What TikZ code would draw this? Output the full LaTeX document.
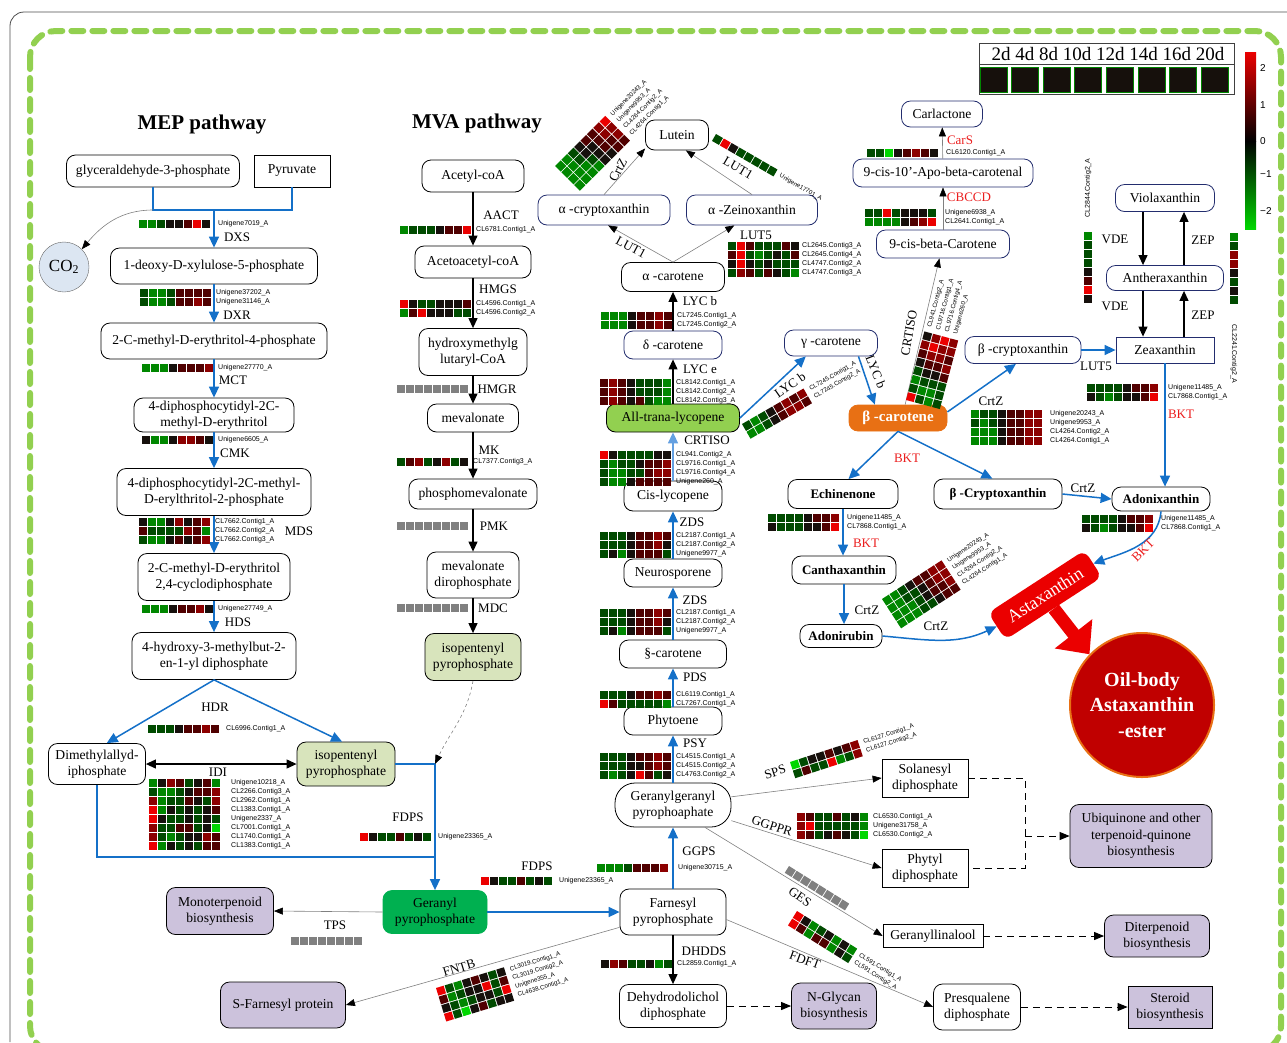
\documentclass[tikz,border=0pt]{standalone}
\usepackage{fontspec}
\setmainfont{Liberation Serif}
\setsansfont{Liberation Sans}
\usetikzlibrary{arrows.meta}
\definecolor{hma}{RGB}{0,215,0}
\definecolor{hmb}{RGB}{0,135,0}
\definecolor{hmc}{RGB}{0,75,0}
\definecolor{hmk}{RGB}{22,16,12}
\definecolor{hmd}{RGB}{80,0,0}
\definecolor{hme}{RGB}{140,0,0}
\definecolor{hmf}{RGB}{235,0,0}
\definecolor{hmx}{RGB}{128,128,128}
\definecolor{arblue}{RGB}{20,112,200}
\definecolor{ltblue}{RGB}{100,160,225}
\definecolor{navy}{RGB}{35,45,110}
\definecolor{ippc}{RGB}{216,228,188}
\definecolor{gppc}{RGB}{0,176,80}
\definecolor{lycc}{RGB}{146,208,80}
\definecolor{purc}{RGB}{204,194,220}
\definecolor{bcc}{RGB}{232,112,20}
\definecolor{co2c}{RGB}{220,230,242}
\definecolor{oilc}{RGB}{192,0,0}
\definecolor{dashg}{RGB}{146,208,80}
\definecolor{enzred}{RGB}{235,30,30}
\newcommand{\fsz}[2]{\fontsize{#1}{#2}\selectfont}
% one heat grid: left x, top y, rows of colour letters
\newcommand{\hgrid}[3]{%
  \foreach \rw [count=\rj from 0] in {#3}{%
    \foreach \ce [count=\ci from 0] in \rw{%
      \fill[fill=hm\ce] (#1+\ci*9,#2+\rj*9) rectangle ++(8,8);
    }%
  }%
}
\newcommand{\hmap}[5][76]{%
  \hgrid{#2}{#3}{#4}
  \foreach \lb [count=\lj from 0] in {#5}
    \node[gid] (hm-#2-#3-\lj) at (#2+#1,#3+4+\lj*9) {\lb};
}
\newcommand{\mnode}[7][met]{\node[#1, minimum width=#5, minimum height=#6] (#2) at (#3,#4) {#7};}
\tikzset{
  met/.style={draw, line width=0.8pt, rounded corners=9pt, fill=white, align=center, font=\fsz{13.6}{16.5}, inner sep=1pt},
  metn/.style={met, draw=navy},
  metbf/.style={met, font=\bfseries\fsz{13}{16}},
  sqm/.style={met, rounded corners=0pt},
  pur/.style={met, fill=purc},
  ipps/.style={met, fill=ippc},
  lycs/.style={met, fill=lycc},
  gpps/.style={met, draw=gppc, fill=gppc},
  bcs/.style={met, draw=bcc, fill=bcc, text=white, font=\bfseries\fsz{15}{18}},
  enz/.style={font=\fsz{13}{15}, inner sep=1pt},
  enzr/.style={enz, text=enzred},
  gid/.style={font=\sffamily\fsz{7}{8}, anchor=west, inner sep=0pt, transform shape},
  gidr/.style={gid/.append style={font=\sffamily\fsz{6.2}{7}}},
  bl/.style={draw=arblue, line width=1.5pt},
  bla/.style={bl, -{Triangle[length=11pt,width=10pt]}},
  bk/.style={line width=1.1pt, -{Triangle[length=10pt,width=9pt]}},
  gr/.style={draw=gray, line width=0.6pt, -{Triangle[length=9pt,width=7pt,color=black]}},
  dsh/.style={line width=0.9pt, dash pattern=on 7pt off 5pt, -{Triangle[length=10pt,width=8pt]}},
}
\begin{document}
\begin{tikzpicture}[x=1pt,y=-1pt]
\useasboundingbox (0,0) rectangle (1287,1042);
% frames
\draw[gray!60!black, line width=0.8pt, rounded corners=14pt] (10,1042) |- (1287,12);
\draw[dashg, line width=6pt, line cap=round, dash pattern=on 12pt off 9pt, rounded corners=26pt] (30,31) rectangle (1281,1052);

% legend
\draw[gray!50!black, line width=1pt] (979,43) rectangle (1234,64) (979,64) rectangle (1234,94);
\node[font=\fsz{19}{21}, inner sep=0pt] (days) at (1108,54) {2d 4d 8d 10d 12d 14d 16d 20d};
\foreach \k in {0,...,7}
  \draw[draw=hmb, fill=hmk, line width=0.8pt] (980+\k*31.6,67) rectangle ++(27,25);
\shade[top color=hmf, bottom color=black] (1245,52) rectangle (1256,141);
\shade[top color=black, bottom color=hma] (1245,141) rectangle (1256,229);
\foreach \v/\yy in {2/68,1/105,0/141,−1/174,−2/211}
  \node[font=\sffamily\fsz{10}{12}, anchor=west, inner sep=1pt] (cb\yy) at (1259,\yy) {\v};

% titles
\node[font=\bfseries\fsz{21}{24}] (mept) at (202,124) {MEP pathway};
\node[font=\bfseries\fsz{21}{24}] (mvat) at (477,123) {MVA pathway};

% MEP pathway
\mnode{g3p}{153}{171}{173}{32}{glyceraldehyde-3-phosphate}
\mnode[sqm]{pyr}{292}{171}{76}{32}{Pyruvate}
\node[circle, draw=gray!80!black, fill=co2c, minimum size=50, font=\fsz{17}{19}, inner sep=0pt] (co2) at (64,267) {CO\textsubscript{2}};
\mnode{dxp}{214}{266}{207}{36}{1-deoxy-D-xylulose-5-phosphate}
\mnode{mep}{214}{341}{226}{36}{2-C-methyl-D-erythritol-4-phosphate}
\mnode{cdpme}{214}{415}{160}{34}{4-diphosphocytidyl-2C-\\methyl-D-erythritol}
\mnode{cdpmep}{214}{492}{194}{47}{4-diphosphocytidyl-2C-methyl-\\D-erylthritol-2-phosphate}
\mnode{mecpp}{214}{577}{152}{47}{2-C-methyl-D-erythritol\\2,4-cyclodiphosphate}
\mnode{hmbpp}{214}{656}{164}{47}{4-hydroxy-3-methylbut-2-\\en-1-yl diphosphate}
\mnode{dmapp}{97}{764}{97}{41}{Dimethylallyd-\\iphosphate}
\mnode[ipps]{ippa}{346}{764}{98}{44}{isopentenyl\\pyrophosphate}

% MVA pathway
\mnode{acoa}{473}{176}{102}{32}{Acetyl-coA}
\mnode{aacoa}{473}{262}{116}{32}{Acetoacetyl-coA}
\mnode{hmgc}{473}{352}{108}{47}{hydroxymethylg\\lutaryl-CoA}
\mnode{mvl}{473}{418}{91}{28}{mevalonate}
\mnode{pmvl}{473}{494}{128}{30}{phosphomevalonate}
\mnode{mvpp}{473}{575}{92}{46}{mevalonate\\dirophosphate}
\mnode[ipps]{ippb}{473}{657}{96}{47}{isopentenyl\\pyrophosphate}

% carotenoids
\mnode{lut}{677}{135}{63}{30}{Lutein}
\mnode[metn]{acry}{604}{210}{132}{30}{α -cryptoxanthin}
\mnode[metn]{azei}{752}{210}{131}{30}{α -Zeinoxanthin}
\mnode{acar}{673}{277}{103}{29}{α -carotene}
\mnode[metn]{dcar}{673}{345}{98}{28}{δ -carotene}
\mnode[lycs]{lyco}{673}{418}{133}{28}{All-trana-lycopene}
\mnode{cisl}{673}{496}{98}{30}{Cis-lycopene}
\mnode{neur}{673}{573}{98}{28}{Neurosporene}
\mnode{zcar}{673}{654}{107}{28}{§-carotene}
\mnode{phyt}{673}{721}{98}{28}{Phytoene}
\mnode[met, rounded corners=20pt]{ggpp}{673}{805}{116}{44}{Geranylgeranyl\\pyrophoaphate}
\mnode{fpp}{673}{912}{106}{46}{Farnesyl\\pyrophosphate}
\mnode{ddp}{673}{1006}{107}{43}{Dehydrodolichol\\diphosphate}
\mnode[metn]{gcar}{831}{343}{93}{26}{γ -carotene}
\mnode[bcs]{bcar}{898}{418}{98}{26}{β -carotene}
\mnode[metn]{cbc}{943}{244}{133}{28}{9-cis-beta-Carotene}
\mnode[metn]{apo}{943}{173}{180}{28}{9-cis-10'-Apo-beta-carotenal}
\mnode[metn]{carl}{942}{114}{81}{26}{Carlactone}
\mnode[metn]{bcry}{1023}{350}{116}{27}{β -cryptoxanthin}
\mnode[metn, rounded corners=0pt]{zea}{1165}{350}{98}{26}{Zeaxanthin}
\mnode[metn]{anth}{1165}{278}{117}{25}{Antheraxanthin}
\mnode[metn]{viol}{1165}{198}{99}{27}{Violaxanthin}
\mnode[metbf]{echi}{843}{494}{110}{29}{Echinenone}
\mnode[metbf]{bcrz}{998}{494}{128}{30}{β -Cryptoxanthin}
\mnode[metbf]{adxn}{1161}{499}{98}{24}{Adonixanthin}
\mnode[metbf]{cant}{844}{570}{104}{28}{Canthaxanthin}
\mnode[metbf]{adrb}{841}{636}{82}{23}{Adonirubin}
\node[fill=hmf, rounded corners=8pt, rotate=33, minimum width=115, minimum height=32, text=white, font=\fsz{18}{20}] (asta) at (1045,595) {Astaxanthin};
\node[circle, fill=oilc, draw=bcc, line width=2pt, minimum size=144, text=white, align=center, font=\bfseries\fsz{20}{25.5}] (oil) at (1142,705) {Oil-body\\Astaxanthin\\-ester};

% side products
\mnode[gpps]{gpp}{435}{912}{104}{43}{Geranyl\\pyrophosphate}
\mnode[pur]{mono}{220}{911}{107}{47}{Monoterpenoid\\biosynthesis}
\mnode[pur]{sfar}{283}{1005}{125}{46}{S-Farnesyl protein}
\mnode[sqm]{sola}{925}{778}{86}{38}{Solanesyl\\diphosphate}
\mnode[sqm]{phyl}{925}{868}{86}{38}{Phytyl\\diphosphate}
\mnode[sqm]{gell}{933}{936}{100}{23}{Geranyllinalool}
\mnode{presq}{977}{1007}{87}{46}{Presqualene\\diphosphate}
\mnode[pur]{ubiq}{1141}{836}{142}{63}{Ubiquinone and other\\terpenoid-quinone\\biosynthesis}
\mnode[pur]{dite}{1157}{936}{105}{42}{Diterpenoid\\biosynthesis}
\mnode[pur, rounded corners=0pt]{ster}{1170}{1007}{84}{42}{Steroid\\biosynthesis}
\mnode[pur]{ngly}{834}{1006}{85}{46}{N-Glycan\\biosynthesis}

% MEP connectors
\coordinate (jmep) at (214,210);
\coordinate (jipp) at (435,764);
\coordinate (jdma) at (435,857);
\draw[bl] (g3p.south) |- (jmep) -| (pyr.south);
\draw[bla] (jmep) -- (dxp.north);
\draw[gr] (g3p.south |- jmep) to[out=180,in=50] (co2.north east);
\foreach \a/\b in {dxp/mep,mep/cdpme,cdpme/cdpmep,cdpmep/mecpp,mecpp/hmbpp}
  \draw[bla] (\a) -- (\b);
\draw[bla] (hmbpp.south) -- (dmapp.65);
\draw[bla] (hmbpp.south) -- (ippa.100);
\draw[line width=1.1pt, {Triangle[length=10pt,width=9pt]}-{Triangle[length=10pt,width=9pt]}] (dmapp) -- (ippa);
\draw[bl] (ippa.east) -- (jipp);
\draw[bl] (dmapp.south) |- (jdma);
\draw[bla] (jipp) -- (gpp.north);
\draw[gr, dashed] (ippb.south) to[out=-100,in=65] (jipp);

% MVA connectors
\foreach \a/\b in {acoa/aacoa,aacoa/hmgc,hmgc/mvl,mvl/pmvl,pmvl/mvpp,mvpp/ippb}
  \draw[bk] (\a) -- (\b);

% carotenoid connectors
\draw[bla] (gpp) -- (fpp);
\foreach \a/\b in {fpp/ggpp,ggpp/phyt,phyt/zcar,zcar/neur,neur/cisl}
  \draw[bla] (\a) -- (\b);
\draw[bl, draw=ltblue, -{Triangle[length=11pt,width=10pt]}] (cisl) -- (lyco);
\draw[bk] (lyco) -- (dcar);
\draw[bk] (dcar) -- (acar);
\draw[gr] (acar.north) -- (acry.-75);
\draw[gr] (acar.north) -- (azei.-139);
\draw[gr] (acry.north) -- (lut.-157);
\draw[gr] (azei.north) -- (lut.-60);
\draw[bla] (lyco.east) -- (gcar.-152);
\draw[bla] (gcar.-26) -- (bcar.150);
\draw[gr] (bcar.62) -- (cbc.-104);
\draw[gr] (cbc) -- (apo);
\draw[gr] (apo) -- (carl);
\draw[bla] (bcar.7) -- (bcry.-117);
\draw[bla] (bcry) -- (zea);
\draw[bk] ([xshift=-22pt]viol.south) -- ([xshift=-22pt]anth.north);
\draw[bk] ([xshift=-22pt]anth.south) -- ([xshift=-22pt]zea.north);
\draw[bk] ([xshift=19pt]zea.north) -- ([xshift=19pt]anth.south);
\draw[bk] ([xshift=19pt]anth.north) -- ([xshift=19pt]viol.south);
\draw[bla] (zea.south) -- (zea.south |- adxn.north);
\draw[bla] (bcar.south) -- (echi.70);
\draw[bla] (bcar.south) -- (bcrz.110);
\draw[bla] (bcrz.east) -- (adxn.west);
\draw[bla] (echi.south) -- (echi.south |- cant.north);
\draw[bla] (cant.south) -- (cant.south |- adrb.north);
\draw[bla] (adrb.east) to[out=-5,in=205] (asta.west);
\draw[bla] (adxn.south) to[out=-95,in=20] (asta.east);
\draw[hmf, line width=13pt, -{Triangle[length=26pt,width=46pt]}] (asta.south) -- (oil.136);

% side connectors
\draw[gr] (ggpp.8) -- (sola.west);
\draw[gr] (ggpp.-15) -- (phyl.west);
\draw[gr] (ggpp.-35) -- (gell.west);
\draw[gr] (fpp.-8) -- (presq.west);
\draw[gr] (fpp.-164) -- (sfar.east);
\draw[gr] (gpp.west) -- (mono.east);
\draw[bk] (fpp) -- (ddp);
\draw[dsh] (ddp) -- (ngly);
\draw[dsh] (presq) -- (ster);
\draw[dsh] (gell) -- (dite);
\coordinate (jubi) at (1025,836);
\draw[line width=0.9pt, dash pattern=on 7pt off 5pt] (sola.east) -| (jubi) |- (phyl.east);
\draw[dsh] (jubi) -- (ubiq.west);

% heat maps, MEP
\hmap[79]{139}{220}{{b,b,c,k,k,d,f,k}}{Unigene7019\_A}
\hmap{140}{289}{{c,b,b,c,d,d,d,d},{c,b,b,c,d,d,e,d}}{Unigene37202\_A,Unigene31146\_A}
\hmap{142}{364}{{b,b,b,k,d,d,d,e}}{Unigene27770\_A}
\hmap{142}{436}{{k,b,b,k,e,e,d,k}}{Unigene6605\_A}
\hmap{139}{518}{{k,b,b,k,e,k,d,e},{d,c,c,c,c,e,d,b},{c,b,b,k,d,k,d,e}}{CL7662.Contig1\_A,CL7662.Contig2\_A,CL7662.Contig3\_A}
\hmap{142}{605}{{b,b,b,k,d,d,e,k}}{Unigene27749\_A}
\hmap[78]{148}{725}{{c,c,c,k,d,d,e,d}}{CL6996.Contig1\_A}
\hmap[82]{149}{779}{{b,k,e,d,c,k,d,b},{c,b,b,c,k,d,d,e},{e,b,c,c,d,k,c,e},{f,b,k,c,k,c,k,d},{f,k,c,c,k,c,k,c},{e,c,c,d,d,c,k,a},{e,c,b,c,k,k,e,d},{f,b,k,c,k,c,d,d}}{Unigene10218\_A,CL2266.Contig3\_A,CL2962.Contig1\_A,CL1383.Contig1\_A,Unigene2337\_A,CL7001.Contig1\_A,CL1740.Contig1\_A,CL1383.Contig1\_A}
\hmap[78]{360}{833}{{f,k,c,c,d,c,k,c}}{Unigene23365\_A}
\hmap[78]{481}{877}{{f,k,c,c,d,c,k,c}}{Unigene23365\_A}
\hgrid{291}{937}{{x,x,x,x,x,x,x,x}}

% heat maps, MVA
\hmap{400}{226}{{b,c,c,c,k,d,d,f}}{CL6781.Contig1\_A}
\hmap{400}{300}{{f,k,c,c,k,k,k,d},{b,d,f,k,k,k,c,c}}{CL4596.Contig1\_A,CL4596.Contig2\_A}
\hgrid{397}{385}{{x,x,x,x,x,x,x,x}}
\hmap{397}{458}{{c,d,e,c,k,e,c,k}}{CL7377.Contig3\_A}
\hgrid{397}{522}{{x,x,x,x,x,x,x,x}}
\hgrid{397}{604}{{x,x,x,x,x,x,x,x}}

% heat maps, carotenoid column
\hmap{600}{691}{{c,c,c,k,d,d,e,d},{f,d,c,c,c,c,c,b}}{CL6119.Contig1\_A,CL7267.Contig1\_A}
\hmap{600}{609}{{c,c,c,k,d,d,e,d},{c,c,c,k,d,d,e,k},{c,k,b,k,d,d,d,c}}{CL2187.Contig1\_A,CL2187.Contig2\_A,Unigene9977\_A}
\hmap{600}{532}{{c,c,c,k,d,d,e,d},{c,c,c,k,d,d,e,k},{c,k,b,k,d,d,d,c}}{CL2187.Contig1\_A,CL2187.Contig2\_A,Unigene9977\_A}
\hmap{600}{451}{{f,k,c,c,c,c,k,k},{c,b,c,c,k,d,d,e},{c,b,b,c,c,d,e,e},{c,b,b,k,d,d,d,d}}{CL941.Contig2\_A,CL9716.Contig1\_A,CL9716.Contig4\_A,Unigene260\_A}
\hmap{600}{379}{{d,e,d,k,c,c,c,b},{d,e,d,k,c,c,c,b},{d,e,d,k,d,c,b,b}}{CL8142.Contig1\_A,CL8142.Contig2\_A,CL8142.Contig3\_A}
\hmap{601}{312}{{b,b,b,k,d,d,e,d},{b,b,b,k,d,d,e,d}}{CL7245.Contig1\_A,CL7245.Contig2\_A}
\hmap[74]{728}{242}{{c,f,d,c,c,c,d,k},{d,f,c,b,c,k,c,d},{k,f,k,c,k,c,c,c},{c,e,d,c,d,k,c,b}}{CL2645.Contig3\_A,CL2645.Contig4\_A,CL4747.Contig2\_A,CL4747.Contig3\_A}
\hmap[81]{597}{864}{{b,b,b,c,d,d,d,e}}{Unigene30715\_A}
\hmap{600}{753}{{c,c,c,k,d,d,e,d},{c,c,c,k,k,d,e,d},{c,b,c,k,f,d,c,k}}{CL4515.Contig1\_A,CL4515.Contig2\_A,CL4763.Contig2\_A}
\hmap{601}{960}{{k,e,d,c,c,k,b,c}}{CL2859.Contig1\_A}

% heat maps, right part
\hmap[79]{867}{149}{{c,c,a,k,d,e,d,k}}{CL6120.Contig1\_A}
\hmap[80]{865}{209}{{c,c,f,c,k,k,k,c},{b,b,b,b,k,d,e,f}}{Unigene6938\_A,CL2641.Contig1\_A}
\hmap[81]{1087}{384}{{c,c,c,c,k,d,d,e},{k,c,b,c,k,k,d,f}}{Unigene11485\_A,CL7868.Contig1\_A}
\hmap[79]{971}{410}{{b,c,c,k,d,d,e,e},{c,b,c,k,d,d,e,e},{b,b,b,k,d,d,e,e},{b,b,b,k,d,d,e,e}}{Unigene20243\_A,Unigene9953\_A,CL4264.Contig2\_A,CL4264.Contig1\_A}
\hmap[79]{768}{514}{{c,c,c,c,k,d,d,e},{k,c,c,c,k,k,d,f}}{Unigene11485\_A,CL7868.Contig1\_A}
\hmap[79]{1082}{515}{{c,c,c,c,k,d,d,e},{k,c,b,c,k,k,d,f}}{Unigene11485\_A,CL7868.Contig1\_A}
\hmap{797}{813}{{e,d,c,c,d,c,k,b},{e,f,c,c,c,c,c,b},{e,d,c,k,d,k,c,a}}{CL6530.Contig1\_A,Unigene31758\_A,CL6530.Contig2\_A}

% rotated and upright heat maps
\begin{scope}[shift={(555,166)}, rotate=45, gidr]
\hmap{0}{0}{{b,b,c,k,d,d,e,f},{b,b,c,k,k,d,e,e},{b,b,b,c,k,d,d,e},{b,b,b,b,k,k,d,d}}{Unigene20243\_A,Unigene9953\_A,CL4264.Contig2\_A,CL4264.Contig1\_A}
\end{scope}
\begin{scope}[shift={(716,134)}, rotate=-30, gidr]
\hmap{0}{0}{{c,f,k,c,c,c,c,c}}{Unigene17701\_A}
\end{scope}
\begin{scope}[shift={(742,424)}, rotate=30, gidr]
\hmap{0}{0}{{c,b,c,k,d,e,d,e},{b,b,c,k,d,e,e,d}}{CL7245.Contig1\_A,CL7245.Contig2\_A}
\end{scope}
\begin{scope}[shift={(906,400)}, rotate=75, gidr]
\hmap{0}{0}{{f,c,b,c,k,d,e,k},{c,b,c,k,d,e,f,e},{b,b,c,k,d,e,e,f},{c,c,c,d,e,d,e,e}}{CL941.Contig2\_A,CL9716.Contig1\_A,CL9716.Contig4\_A,Unigene260\_A}
\end{scope}
\begin{scope}[shift={(882,599)}, rotate=33, gidr]
\hmap{0}{0}{{b,b,c,k,d,d,e,e},{b,b,c,c,k,d,e,e},{b,b,b,c,k,d,d,e},{b,b,b,c,c,k,d,d}}{Unigene20243\_A,Unigene9953\_A,CL4264.Contig2\_A,CL4264.Contig1\_A}
\end{scope}
\begin{scope}[shift={(790,762)}, rotate=18, gidr]
\hmap{0}{0}{{a,c,k,k,d,k,d,e},{c,d,c,c,f,b,c,e}}{CL6127.Contig1\_A,CL6127.Contig2\_A}
\end{scope}
\begin{scope}[shift={(789,866)}, rotate=-32]
\hgrid{0}{0}{{x,x,x,x,x,x,x,x}}
\end{scope}
\begin{scope}[shift={(797,911)}, rotate=-32, gidr]
\hmap{0}{0}{{f,k,b,c,k,b,k,b},{f,d,b,d,d,b,k,c}}{CL591.Contig1\_A,CL591.Contig2\_A}
\end{scope}
\begin{scope}[shift={(436,988)}, rotate=17, gidr]
\hmap{0}{0}{{f,c,b,k,d,k,c,k},{d,b,c,k,k,f,c,d},{k,c,b,c,k,k,c,f},{f,c,a,k,d,c,k,k}}{CL3019.Contig1\_A,CL3019.Contig2\_A,Unigene355\_A,CL4638.Contig1\_A}
\end{scope}
\begin{scope}[shift={(1092,232)}, rotate=-90]
\hgrid{0}{0}{{b,c,c,c,k,d,f,k}}
\end{scope}
\begin{scope}[shift={(1238,233)}, rotate=-90]
\hgrid{0}{0}{{b,c,e,e,k,c,k,c}}
\end{scope}
\node[gid, anchor=center, rotate=90] (vdeid) at (1088,188) {CL2844.Contig2\_A};
\node[gid, anchor=center, rotate=-90] (zepid) at (1234,354) {CL2241.Contig2\_A};

% enzymes
\node[enz] (dxs) at (237,237) {DXS};
\node[enz] (dxr) at (237,315) {DXR};
\node[enz] (mct) at (233,380) {MCT};
\node[enz] (cmk) at (235,453) {CMK};
\node[enz] (mds) at (299,531) {MDS};
\node[enz] (hds) at (238,622) {HDS};
\node[enz] (hdr) at (215,707) {HDR};
\node[enz] (idi) at (218,772) {IDI};
\node[enz] (fdpsa) at (408,817) {FDPS};
\node[enz] (fdpsb) at (537,866) {FDPS};
\node[enz] (tps) at (335,925) {TPS};
\node[enz, rotate=17] (fntb) at (459,968) {FNTB};
\node[enz] (aact) at (501,215) {AACT};
\node[enz] (hmgs) at (498,289) {HMGS};
\node[enz] (hmgr) at (497,389) {HMGR};
\node[enz] (mk) at (489,450) {MK};
\node[enz] (pmk) at (494,526) {PMK};
\node[enz] (mdc) at (493,608) {MDC};
\node[enz] (psy) at (695,743) {PSY};
\node[enz] (ggps) at (699,851) {GGPS};
\node[enz] (dhdds) at (704,951) {DHDDS};
\node[enz] (pds) at (695,677) {PDS};
\node[enz] (zdsa) at (695,600) {ZDS};
\node[enz] (zdsb) at (692,522) {ZDS};
\node[enz] (crtisoa) at (707,440) {CRTISO};
\node[enz] (lyce) at (700,369) {LYC e};
\node[enz] (lycba) at (700,301) {LYC b};
\node[enz] (luta) at (756,235) {LUT5};
\node[enz, rotate=-28] (lutb) at (631,247) {LUT1};
\node[enz, rotate=62] (crtza) at (618,170) {CrtZ};
\node[enz, rotate=-30] (lutc) at (738,168) {LUT1};
\node[enz, rotate=35] (lycbb) at (790,385) {LYC b};
\node[enz, rotate=-68] (lycbc) at (876,372) {LYC b};
\node[enz, rotate=80] (crtisob) at (909,333) {CRTISO};
\node[enzr] (cars) at (960,140) {CarS};
\node[enzr] (cbccd) at (969,197) {CBCCD};
\node[enz] (vdea) at (1115,239) {VDE};
\node[enz] (vdeb) at (1115,306) {VDE};
\node[enz] (zepa) at (1203,240) {ZEP};
\node[enz] (zepb) at (1203,315) {ZEP};
\node[enz] (lutd) at (1096,366) {LUT5};
\node[enzr] (bkta) at (1181,414) {BKT};
\node[enzr] (bktb) at (907,458) {BKT};
\node[enz] (crtzb) at (991,401) {CrtZ};
\node[enz] (crtzc) at (1083,488) {CrtZ};
\node[enzr] (bktc) at (866,543) {BKT};
\node[enz] (crtzd) at (867,610) {CrtZ};
\node[enz] (crtze) at (936,626) {CrtZ};
\node[enzr, rotate=45] (bktd) at (1143,550) {BKT};
\node[enz, rotate=18] (sps) at (775,772) {SPS};
\node[enz, rotate=-18] (ggppr) at (772,826) {GGPPR};
\node[enz, rotate=-35] (ges) at (800,897) {GES};
\node[enz, rotate=-20] (fdft) at (805,960) {FDFT};
\end{tikzpicture}
\end{document}
